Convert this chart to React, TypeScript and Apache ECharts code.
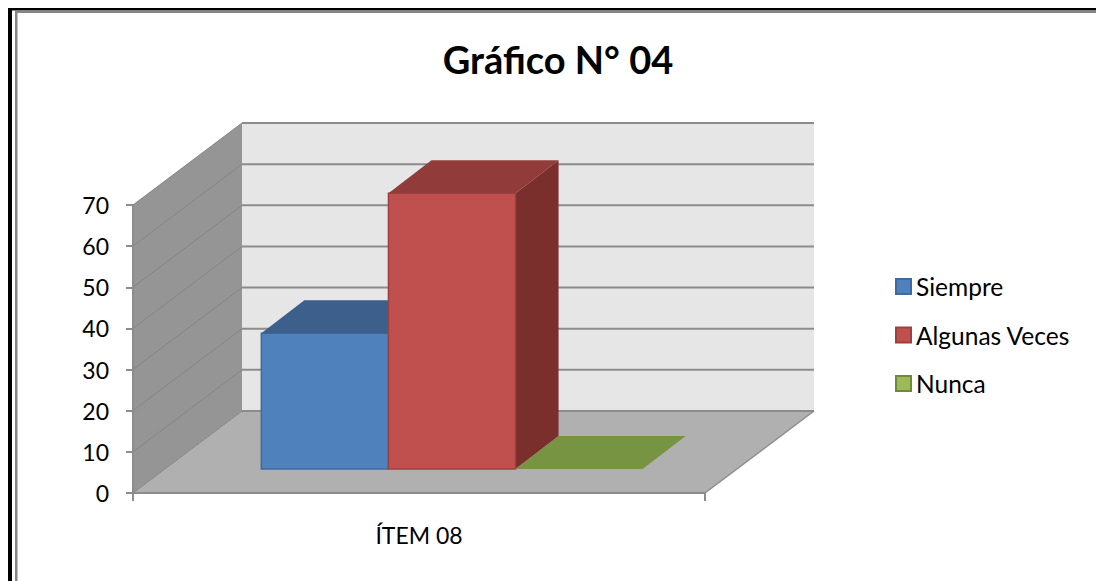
import React, { useEffect, useRef } from "react";
import * as echarts from "echarts";

const titleText = "Gráfico N° 04";
const categories = ["ÍTEM 08"];
const seriesNames = ["Siempre", "Algunas Veces", "Nunca"];
const siempreValues = [33];
const algunasVecesValues = [67];
const nuncaValues = [0];
const wallTicks = [0, 10, 20, 30, 40, 50, 60, 70];

const FONT = "Lato";
const DEPTH_X = 109;
const DEPTH_Y = 82;
const FRONT_X = 33;
const FRONT_Y = 24;
const BAR_DX = 43;
const BAR_DY = 33;
const GRID_LINE = "#8c8c8c";

const pts = (arr: number[][]) => arr;

function renderWalls(params: any, api: any) {
  if (params.dataIndex !== 0) return { type: "group", children: [] };
  const band = api.size([1, 0])[0];
  const cx = api.coord([0, 0])[0];
  const l = cx - band / 2;
  const r = cx + band / 2;
  const y0 = api.coord([0, 0])[1];
  const yTop = api.coord([0, 70])[1];
  const children: any[] = [
    { type: "polygon", shape: { points: pts([[l + DEPTH_X, y0 - DEPTH_Y], [r + DEPTH_X, y0 - DEPTH_Y], [r + DEPTH_X, yTop - DEPTH_Y], [l + DEPTH_X, yTop - DEPTH_Y]]) }, style: { fill: "#e6e6e6" } },
    { type: "polygon", shape: { points: pts([[l, y0], [l + DEPTH_X, y0 - DEPTH_Y], [l + DEPTH_X, yTop - DEPTH_Y], [l, yTop]]) }, style: { fill: "#959595" } },
    { type: "polygon", shape: { points: pts([[l, y0], [r, y0], [r + DEPTH_X, y0 - DEPTH_Y], [l + DEPTH_X, y0 - DEPTH_Y]]) }, style: { fill: "#b0b0b0" } },
    { type: "line", shape: { x1: r, y1: y0, x2: r + DEPTH_X, y2: y0 - DEPTH_Y }, style: { stroke: GRID_LINE, lineWidth: 1.5 } },
  ];
  wallTicks.forEach((t) => {
    const y = api.coord([0, t])[1];
    children.push({ type: "line", shape: { x1: l + DEPTH_X, y1: y - DEPTH_Y, x2: r + DEPTH_X, y2: y - DEPTH_Y }, style: { stroke: GRID_LINE, lineWidth: 2 } });
    children.push({ type: "line", shape: { x1: l, y1: y, x2: l + DEPTH_X, y2: y - DEPTH_Y }, style: { stroke: "#858585", lineWidth: 1 } });
  });
  return { type: "group", children };
}

function makeBarRenderer(index: number, c: { front: string; top: string; side: string; edge: string }) {
  return (_params: any, api: any) => {
    const band = api.size([1, 0])[0];
    const cx = api.coord([api.value(0), 0])[0];
    const barW = band / 4.5;
    const x0 = cx - 1.5 * barW + index * barW + FRONT_X;
    const x1 = x0 + barW;
    const yBase = api.coord([0, 0])[1] - FRONT_Y;
    const yTop = yBase - (api.coord([0, 0])[1] - api.coord([0, api.value(1)])[1]);
    const children: any[] = [];
    if (yBase - yTop > 0.5) {
      children.push({ type: "polygon", shape: { points: pts([[x1, yBase], [x1 + BAR_DX, yBase - BAR_DY], [x1 + BAR_DX, yTop - BAR_DY], [x1, yTop]]) }, style: { fill: c.side } });
      children.push({ type: "rect", shape: { x: x0, y: yTop, width: barW, height: yBase - yTop }, style: { fill: c.front, stroke: c.edge, lineWidth: 1.5 } });
    }
    children.push({ type: "polygon", shape: { points: pts([[x0, yTop], [x0 + BAR_DX, yTop - BAR_DY], [x1 + BAR_DX, yTop - BAR_DY], [x1, yTop]]) }, style: { fill: c.top } });
    return { type: "group", children };
  };
}

export default function App() {
  const ref = useRef<HTMLDivElement>(null);
  useEffect(() => {
    if (!ref.current) return;
    const chart = echarts.init(ref.current, undefined, { renderer: "svg" });
    const barSeries = (name: string, values: number[], index: number, front: string, top: string, side: string, edge: string) => ({
      type: "custom",
      name,
      clip: false,
      silent: true,
      itemStyle: { color: front, borderColor: edge, borderWidth: 2 },
      encode: { x: 0, y: 1 },
      data: values.map((v, i) => [i, v]),
      renderItem: makeBarRenderer(index, { front, top, side, edge }),
    });
    chart.setOption({
      animation: false,
      backgroundColor: "#ffffff",
      title: {
        text: titleText,
        left: 553,
        top: 35,
        textAlign: "center",
        textStyle: { fontFamily: FONT, fontSize: 38, fontWeight: "bold", color: "#000000" },
      },
      legend: {
        orient: "vertical",
        left: 895,
        top: 274,
        padding: 0,
        itemWidth: 15,
        itemHeight: 15,
        itemGap: 23.5,
        data: seriesNames,
        selectedMode: false,
        textStyle: { fontFamily: FONT, fontSize: 24.5, lineHeight: 16.5, color: "#000000" },
        icon: "rect",
      },
      grid: { left: 133, right: 391, top: 205, bottom: 88, containLabel: false },
      xAxis: {
        type: "category",
        data: categories,
        z: 5,
        axisLine: { show: true, lineStyle: { color: GRID_LINE, width: 2 } },
        axisTick: { show: true, length: 8, lineStyle: { color: GRID_LINE, width: 2 } },
        axisLabel: { fontFamily: FONT, fontSize: 23, color: "#000000", margin: 30 },
      },
      yAxis: {
        type: "value",
        min: 0,
        max: 70,
        interval: 10,
        z: 5,
        splitLine: { show: false },
        axisLine: { show: true, lineStyle: { color: GRID_LINE, width: 2 } },
        axisTick: { show: true, length: 7, lineStyle: { color: GRID_LINE, width: 2 } },
        axisLabel: { fontFamily: FONT, fontSize: 23, color: "#000000", margin: 24 },
      },
      graphic: [
        { type: "rect", silent: true, shape: { x: 8, y: 8, width: 1088, height: 2.5 }, style: { fill: "#000000" } },
        { type: "rect", silent: true, shape: { x: 8, y: 8, width: 4, height: 573 }, style: { fill: "#000000" } },
        { type: "rect", silent: true, shape: { x: 15, y: 11, width: 1081, height: 2 }, style: { fill: "#868686" } },
        { type: "rect", silent: true, shape: { x: 15, y: 11, width: 2.5, height: 570 }, style: { fill: "#868686" } },
      ],
      series: [
        {
          type: "custom",
          name: "walls",
          clip: false,
          silent: true,
          encode: { x: 0, y: 1 },
          data: [[0, 0]],
          renderItem: renderWalls,
        },
        barSeries(seriesNames[0], siempreValues, 0, "#4f81bd", "#3c5f8c", "#2f4c70", "#3f6a9e"),
        barSeries(seriesNames[1], algunasVecesValues, 1, "#c0504d", "#913c3a", "#7a2f2d", "#a0403d"),
        { ...barSeries(seriesNames[2], nuncaValues, 2, "#9bbb59", "#779443", "#5f7a35", "#71893f") },
      ],
    });
    return () => chart.dispose();
  }, []);
  return <div ref={ref} style={{ position: "fixed", left: 0, top: 0, width: 1096, height: 581 }} />;
}
